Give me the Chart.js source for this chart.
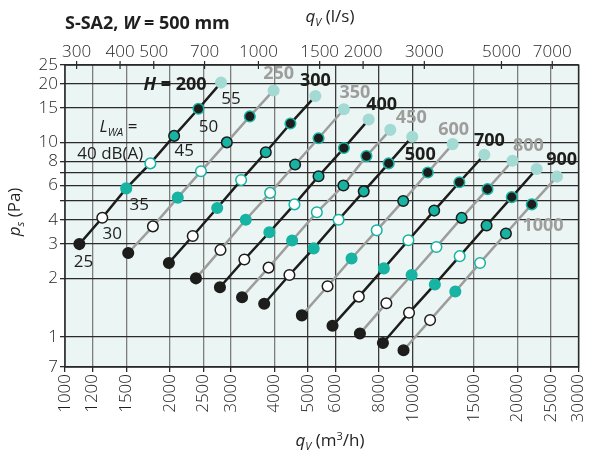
<!DOCTYPE html>
<html>
<head>
<meta charset="utf-8">
<script src="https://cdn.jsdelivr.net/npm/chart.js@4.4.0/dist/chart.umd.min.js"></script>
<style>
html, body { margin: 0; padding: 0; background: #fff; }
</style>
</head>
<body>
<canvas id="fanChart" width="601" height="459"></canvas>
<script>
// sound levels LWA dB(A) along each line, H = duct height (mm)
const soundLevels = [25, 30, 35, 40, 45, 50, 55];
const heights = [200, 250, 300, 350, 400, 450, 500, 600, 700, 800, 900, 1000];

// flow qV (m3/h) and pressure ps (Pa) per height
const q200 = [1100, 1280, 1500, 1760, 2060, 2420, 2810];
const p200 = [3.0, 4.1, 5.8, 7.8, 10.8, 14.9, 20.3];
const q250 = [1520, 1790, 2110, 2460, 2920, 3400, 3980];
const p250 = [2.7, 3.7, 5.2, 7.1, 10.0, 13.6, 18.5];
const q300 = [1990, 2330, 2740, 3210, 3780, 4450, 5250];
const p300 = [2.4, 3.3, 4.6, 6.4, 8.9, 12.5, 17.3];
const q350 = [2380, 2800, 3310, 3890, 4590, 5360, 6340];
const p350 = [2.0, 2.8, 4.0, 5.5, 7.7, 10.5, 14.8];
const q400 = [2790, 3280, 3870, 4570, 5360, 6340, 7470];
const p400 = [1.8, 2.5, 3.45, 4.8, 6.7, 9.35, 13.1];
const q450 = [3230, 3850, 4500, 5300, 6320, 7360, 8620];
const p450 = [1.6, 2.27, 3.13, 4.37, 6.0, 8.5, 11.6];
const q500 = [3740, 4420, 5190, 6120, 7230, 8530, 9970];
const p500 = [1.48, 2.08, 2.85, 4.0, 5.6, 7.8, 10.7];
const q600 = [4800, 5690, 6670, 7880, 9390, 11050, 13030];
const p600 = [1.29, 1.82, 2.53, 3.53, 5.0, 7.0, 9.8];
const q700 = [5880, 7000, 8260, 9720, 11530, 13620, 16070];
const p700 = [1.14, 1.61, 2.25, 3.14, 4.46, 6.24, 8.64];
const q800 = [7050, 8400, 9930, 11700, 13830, 16410, 19360];
const p800 = [1.04, 1.49, 2.08, 2.9, 4.09, 5.75, 8.05];
const q900 = [8210, 9760, 11580, 13650, 16310, 19270, 22720];
const p900 = [0.93, 1.33, 1.86, 2.6, 3.74, 5.23, 7.3];
const q1000 = [9410, 11220, 13260, 15620, 18540, 22000, 26000];
const p1000 = [0.854, 1.22, 1.71, 2.4, 3.4, 4.8, 6.67];

const flows = [q200, q250, q300, q350, q400, q450, q500, q600, q700, q800, q900, q1000];
const pressures = [p200, p250, p300, p350, p400, p450, p500, p600, p700, p800, p900, p1000];

// axis ticks
const bottomTicks = [1000, 1200, 1500, 2000, 2500, 3000, 4000, 5000, 6000, 8000, 10000, 15000, 20000, 25000, 30000];
const topTicks = [300, 400, 500, 700, 1000, 1500, 2000, 3000, 5000, 7000];
const yGrid = [0.7, 1, 2, 3, 4, 5, 6, 7, 8, 10, 15, 20, 25];
const yLabels = { 0.7: '7', 1: '1', 2: '2', 3: '3', 4: '4', 6: '6', 8: '8', 10: '10', 15: '15', 20: '20', 25: '25' };

const BLACK = '#1d1d1b';
const GRAY = '#9d9d9c';
const TEAL = '#17b3a3';
const LIGHT = '#a3dad3';
const TEXT = '#1f1f1f';
const FONT = '"Open Sans", sans-serif';

const pointFill = [BLACK, '#ffffff', TEAL, '#ffffff', TEAL, BLACK, LIGHT];
const pointEdge = [BLACK, BLACK, TEAL, TEAL, BLACK, TEAL, LIGHT];

// label offsets from the 55 dB point (centre of text)
const hLabelOffsets = [[-46, 2], [5, -17], [0, -15], [11, -16], [13, -15], [21, -12], [8, 18], [1, -14], [5, -14], [16, -15], [25, -9], [-14, 49]];
const dbLabelOffsets = { 25: [4, 18], 30: [10, 16], 35: [13, 17], 45: [10, 15], 50: [10, 18], 55: [10, 17] };

const datasets = heights.map((h, i) => {
  const col = [200, 300, 400, 500, 700, 900].includes(h) ? BLACK : GRAY;
  return {
    label: 'H = ' + h,
    data: flows[i].map((q, k) => ({ x: q, y: pressures[i][k] })),
    borderColor: col,
    borderWidth: 2.5,
    pointRadius: 5.3,
    pointBorderWidth: 1.5,
    pointBackgroundColor: pointFill,
    pointBorderColor: pointEdge,
    showLine: true,
    tension: 0
  };
});

function richWidth(ctx, parts) {
  let w = 0;
  parts.forEach(p => { ctx.font = p.f; w += ctx.measureText(p.t).width; });
  return w;
}
function drawRich(ctx, x, y, parts, align) {
  let cx = x;
  if (align === 'center') cx = x - richWidth(ctx, parts) / 2;
  if (align === 'right') cx = x - richWidth(ctx, parts);
  parts.forEach(p => {
    ctx.font = p.f;
    ctx.fillStyle = p.c || TEXT;
    ctx.fillText(p.t, cx, y + (p.dy || 0));
    cx += ctx.measureText(p.t).width;
  });
}

const decor = {
  id: 'decor',
  beforeDraw(chart) {
    const { ctx, chartArea: a } = chart;
    ctx.save();
    ctx.fillStyle = '#ebf5f3';
    ctx.fillRect(a.left, a.top, a.right - a.left, a.bottom - a.top);
    ctx.restore();
  },
  beforeDatasetsDraw(chart) {
    const { ctx, chartArea: a } = chart;
    const top = chart.scales.x2;
    ctx.save();
    ctx.strokeStyle = '#2a2a2a';
    ctx.lineWidth = 1.5;
    ctx.strokeRect(a.left, a.top, a.right - a.left, a.bottom - a.top);
    ctx.lineWidth = 1.2;
    topTicks.forEach(v => {
      const x = top.getPixelForValue(v);
      ctx.beginPath();
      ctx.moveTo(x, a.top - 4);
      ctx.lineTo(x, a.top + 4);
      ctx.stroke();
    });
    ctx.restore();
  },
  afterDatasetsDraw(chart) {
    const { ctx } = chart;
    ctx.save();
    ctx.textBaseline = 'middle';
    const b18 = 'bold 18px ' + FONT;
    const bi18 = 'italic bold 18px ' + FONT;
    const r17 = '17px ' + FONT;
    const i17 = 'italic 17px ' + FONT;
    const i11 = 'italic 11px ' + FONT;

    heights.forEach((h, i) => {
      const pt = chart.getDatasetMeta(i).data[6];
      const off = hLabelOffsets[i];
      const col = datasets[i].borderColor;
      const parts = i === 0
        ? [{ t: 'H', f: bi18, c: BLACK }, { t: ' = ' + h, f: b18, c: BLACK }]
        : [{ t: String(h), f: b18, c: col }];
      drawRich(ctx, pt.x + off[0], pt.y + off[1], parts, 'center');
    });

    // dB(A) labels along H = 200
    const first = chart.getDatasetMeta(0).data;
    soundLevels.forEach((lv, k) => {
      const off = dbLabelOffsets[lv];
      if (!off) return;
      drawRich(ctx, first[k].x + off[0], first[k].y + off[1], [{ t: String(lv), f: r17 }], 'center');
    });
    const p40 = first[3];
    drawRich(ctx, p40.x - 7, p40.y - 9, [{ t: '40 dB(A)', f: r17 }], 'right');
    drawRich(ctx, p40.x - 13, p40.y - 36, [{ t: 'L', f: i17 }, { t: 'WA', f: i11, dy: 5 }, { t: ' =', f: r17 }], 'right');

    // titles
    ctx.textBaseline = 'alphabetic';
    drawRich(ctx, 65, 29, [{ t: 'S-SA2, ', f: b18 }, { t: 'W', f: bi18 }, { t: ' = 500 mm', f: b18 }], 'left');
    drawRich(ctx, 330, 22, [{ t: 'q', f: i17 }, { t: 'V', f: i11, dy: 4 }, { t: ' (l/s)', f: r17 }], 'center');
    drawRich(ctx, 330, 446, [{ t: 'q', f: i17 }, { t: 'V', f: i11, dy: 4 }, { t: ' (m', f: r17 }, { t: '3', f: '11px ' + FONT, dy: -6 }, { t: '/h)', f: r17 }], 'center');
    ctx.translate(20, 212);
    ctx.rotate(-Math.PI / 2);
    drawRich(ctx, 0, 0, [{ t: 'p', f: i17 }, { t: 's', f: i11, dy: 4 }, { t: ' (Pa)', f: r17 }], 'center');
    ctx.restore();
  }
};

const tickFont = { family: FONT, size: 17, weight: '300' };

new Chart(document.getElementById('fanChart'), {
  type: 'scatter',
  data: { datasets: datasets },
  plugins: [decor],
  options: {
    responsive: false,
    animation: false,
    devicePixelRatio: 1,
    layout: { padding: { left: 0, right: 6, top: 0, bottom: 0 } },
    plugins: { legend: { display: false }, tooltip: { enabled: false } },
    scales: {
      x: {
        type: 'logarithmic',
        position: 'bottom',
        min: 1000,
        max: 30000,
        afterBuildTicks: s => { s.ticks = bottomTicks.map(v => ({ value: v })); },
        afterFit: s => { s.height = 92; },
        border: { display: false },
        grid: {
          color: c => (c.tick && c.tick.value >= 5000 && c.tick.value <= 10000) ? '#3a3a3a' : '#7d7d7d',
          lineWidth: 1.3,
          tickColor: '#2a2a2a',
          tickLength: 5
        },
        ticks: {
          autoSkip: false,
          minRotation: 90,
          maxRotation: 90,
          padding: 2,
          color: TEXT,
          font: tickFont,
          callback: v => String(v)
        }
      },
      x2: {
        type: 'logarithmic',
        position: 'top',
        min: 1000 / 3.6,
        max: 30000 / 3.6,
        afterBuildTicks: s => { s.ticks = topTicks.map(v => ({ value: v })); },
        afterFit: s => { s.height = 65; },
        border: { display: false },
        grid: { display: false, drawTicks: false },
        ticks: {
          autoSkip: false,
          maxRotation: 0,
          padding: 3,
          color: TEXT,
          font: tickFont,
          callback: v => String(v)
        }
      },
      y: {
        type: 'logarithmic',
        min: 0.7,
        max: 25,
        afterBuildTicks: s => { s.ticks = yGrid.map(v => ({ value: v })); },
        afterFit: s => { s.width = 65; },
        border: { display: false },
        grid: { color: '#2a2a2a', lineWidth: 1.3, tickColor: '#2a2a2a', tickLength: 5 },
        ticks: {
          autoSkip: false,
          padding: 2,
          color: TEXT,
          font: tickFont,
          callback: v => yLabels[v] || ''
        }
      }
    }
  }
});
</script>
</body>
</html>
